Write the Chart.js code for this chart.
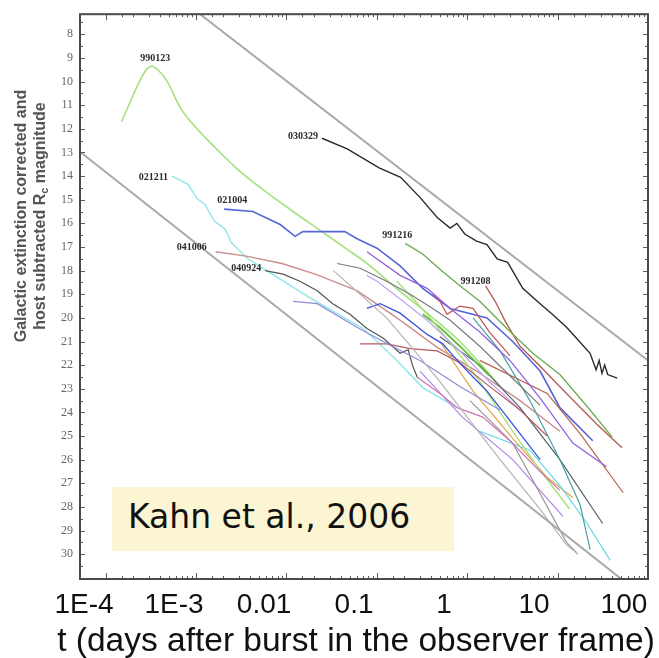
<!DOCTYPE html>
<html>
<head>
<meta charset="utf-8">
<script src="https://cdn.jsdelivr.net/npm/chart.js@4.4.0/dist/chart.umd.min.js"></script>
<style>
  html, body { margin: 0; padding: 0; background: #fff; }
  #wrap { position: relative; width: 659px; height: 658px; overflow: hidden; }
  #note {
    position: absolute; left: 112px; top: 487px; width: 342px; height: 64px;
    box-sizing: border-box; padding-left: 16px;
    background: #fcf5d3; color: #111;
    font: 33px 'DejaVu Sans', sans-serif; line-height: 60px; white-space: nowrap;
  }
</style>
</head>
<body>
<div id="wrap">
  <canvas id="myChart" width="659" height="658"></canvas>
  <div id="note">Kahn et al., 2006</div>
</div>
<script>
// axis labels
var tickValues = [1e-4, 1e-3, 0.01, 0.1, 1, 10, 100];
var tickLabels = ['1E-4', '1E-3', '0.01', '0.1', '1', '10', '100'];
var magFirst = 8;
var magLast = 30;
var xTitle = 't (days after burst in the observer frame)';

// grey envelope lines [t (days), R mag]
var upperEnvelope = [[1e-3, 6.3], [185, 21.8]];
var lowerEnvelope = [[9e-5, 12.97], [185, 31.94]];

// labelled light curves [t (days), R mag]
var grb990123 = [[2.6e-4, 11.7], [4.9e-4, 9.5], [5.7e-4, 9.35], [6.6e-4, 9.5], [8.4e-4, 10.0], [1.17e-3, 11.1],
  [1.8e-3, 12.0], [2.7e-3, 12.7], [5.4e-3, 13.8], [0.0108, 14.7], [0.021, 15.5], [0.042, 16.3], [0.084, 17.1],
  [0.14, 17.7], [0.33, 18.9], [0.7, 19.9], [1.5, 21.0], [4.2, 22.9]];
var grb030329 = [[0.044, 12.4], [0.084, 12.85], [0.19, 13.65], [0.33, 14.05], [0.54, 14.9], [0.84, 15.75],
  [1.17, 16.2], [1.39, 16.0], [1.7, 16.45], [2.3, 16.75], [3.0, 16.9], [3.9, 17.5], [5.1, 17.65], [7.5, 18.75],
  [11.7, 19.4], [16, 19.85], [23, 20.4], [32, 21.0], [42, 21.5], [49, 22.2], [53, 21.8], [57, 22.35],
  [61, 22.0], [66, 22.4], [84, 22.55]];
var grb021211 = [[9.5e-4, 14.0], [1.43e-3, 14.35], [1.8e-3, 14.95], [2.2e-3, 15.2], [2.8e-3, 15.9],
  [3.7e-3, 16.25], [4.3e-3, 16.8], [6.6e-3, 17.5], [0.0123, 18.15], [0.0325, 19.15], [0.126, 20.45],
  [0.3, 21.8], [0.58, 22.95], [1.39, 23.8]];
var grb021004 = [[3.6e-3, 15.4], [7.5e-3, 15.5], [0.0151, 16.05], [0.0221, 16.55], [0.027, 16.35],
  [0.054, 16.35], [0.079, 16.35], [0.108, 16.65], [0.18, 17.05], [0.325, 17.8], [0.58, 18.75], [1.17, 19.6],
  [3.0, 20.0], [5.8, 21.0], [11.7, 22.25], [19.4, 23.8], [45, 25.2]];
var grb041006 = [[2.9e-3, 17.2], [6.6e-3, 17.4], [0.0158, 17.7], [0.037, 18.15], [0.108, 18.85], [0.3, 20.0],
  [0.84, 21.25], [2.3, 22.25], [7.0, 23.5], [19.4, 24.8]];
var grb040924 = [[0.0103, 18.0], [0.0163, 18.15], [0.025, 18.45], [0.039, 18.85], [0.058, 19.4], [0.09, 19.85],
  [0.139, 20.45], [0.21, 20.85], [0.325, 21.5], [0.4, 21.35], [0.45, 22.05], [0.51, 22.55]];
var grb991216 = [[0.37, 16.85], [0.58, 17.3], [0.97, 18.05], [1.63, 18.75], [2.5, 19.3], [5.0, 20.45],
  [9.7, 21.5], [19.4, 22.4], [42, 23.9], [74, 25.05]];
var grb991208 = [[2.9, 18.65], [3.7, 19.3], [4.8, 20.15], [7.0, 21.2], [11.7, 22.05], [23, 23.2], [50, 24.5],
  [95, 25.5]];

// unlabelled light curves in the bundle
var other1 = [[0.065, 17.7], [0.117, 17.9], [0.23, 18.45], [0.42, 19.0], [0.75, 19.6], [1.17, 20.1], [2.5, 21.2], [5.4, 22.45], [11.7, 23.7]];
var other2 = [[0.059, 18.0], [0.117, 19.0], [0.23, 20.0], [0.45, 21.3], [0.9, 22.7], [1.94, 24.35], [4.2, 26.0], [11.7, 28.1], [23, 29.6], [31, 30.0]];
var other3 = [[0.021, 19.3], [0.039, 19.4], [0.108, 20.4], [0.21, 21.0], [0.54, 21.8], [1.5, 22.9], [4.2, 23.9]];
var other4 = [[0.139, 19.6], [0.195, 19.4], [0.325, 19.8], [0.65, 20.7], [0.97, 21.1], [1.4, 21.8], [2.1, 22.5], [3.0, 23.1], [5.4, 24.35], [11.7, 26.0]];
var other5 = [[0.117, 21.1], [0.23, 21.1], [0.42, 21.3], [0.84, 21.4], [1.5, 21.9], [3.2, 22.9], [7.0, 23.9], [14, 25.0]];
var other6 = [[0.5, 22.5], [0.9, 23.2], [1.4, 23.8], [2.7, 24.2], [5.4, 25.2], [11.7, 26.5], [19.4, 27.3]];
var other7 = [[0.139, 17.2], [0.325, 18.2], [0.65, 18.75], [1.17, 19.6], [2.5, 20.6], [5.4, 21.8], [11.7, 23.4], [27, 25.3], [64, 26.3]];
var other8 = [[0.139, 18.2], [0.18, 18.45], [0.325, 19.2], [0.65, 20.1], [1.5, 21.4], [3.2, 22.7], [7.0, 23.9]];
var other9 = [[0.3, 18.45], [0.65, 19.85], [1.8, 21.95], [2.5, 22.7], [5.8, 24.8], [11.7, 26.45], [25, 28.1]];
var other10 = [[0.58, 19.85], [0.9, 20.4], [1.5, 21.2], [3.2, 22.45]];
var other11 = [[0.75, 19.0], [0.9, 19.3], [1.08, 19.85], [1.5, 19.5], [2.1, 19.6], [3.2, 20.6], [5.4, 21.6]];
var other12 = [[2.1, 20.0], [4.2, 21.4], [9.0, 23.5], [19.4, 26.0], [32.5, 27.9], [42, 29.8]];
var other13 = [[0.9, 20.8], [2.5, 22.0], [7.0, 23.8], [19.4, 26.0], [58, 28.7]];
var other14 = [[2.5, 24.8], [9, 25.6], [19.4, 27.1], [39, 28.7], [70, 30.25]];
var other15 = [[2.5, 21.8], [14, 23.2], [32.5, 24.9], [98, 27.4]];
var other16 = [[0.9, 21.0], [2.1, 23.1], [5.8, 25.1], [14, 26.75], [27, 27.6]];
var other17 = [[0.54, 22.25], [1.6, 24.2], [5.8, 26.0], [21, 28.4]];
var other18 = [[1.94, 23.5], [5.8, 25.3], [23, 29.5], [30, 29.95]];

function pts(arr) {
  return arr.map(function(p) { return {x: p[0], y: p[1]}; });
}

function line(label, arr, color, width, extra) {
  var ds = {
    label: label,
    data: pts(arr),
    borderColor: color,
    borderWidth: width,
    pointRadius: 0,
    tension: 0,
    fill: false
  };
  for (var k in extra || {}) ds[k] = extra[k];
  return ds;
}

var datasets = [
  line('upper', upperEnvelope, '#a9a9a9', 2),
  line('lower', lowerEnvelope, '#a9a9a9', 2),
  line('o1', other1, '#7a7a7a', 1.2),
  line('o2', other2, '#b4b4b4', 1.2),
  line('o3', other3, '#8c8cd8', 1.2),
  line('o4', other4, '#3b52e0', 1.3),
  line('o5', other5, '#b45c5c', 1.2),
  line('o6', other6, '#d474b4', 1.2),
  line('o7', other7, '#9262e0', 1.3),
  line('o8', other8, '#c4a4f2', 1.3),
  line('o9', other9, '#a8e07a', 1.4),
  line('o10', other10, '#5cbc3c', 1.8),
  line('o11', other11, '#c45252', 1.2),
  line('o12', other12, '#4aa0a0', 1.2),
  line('o13', other13, '#506070', 1.2),
  line('o14', other14, '#64d8e8', 1.2),
  line('o15', other15, '#b46452', 1.2),
  line('o16', other16, '#e2a444', 1.2),
  line('o17', other17, '#b484e2', 1.2),
  line('o18', other18, '#9a9a9a', 1.2),
  line('041006', grb041006, '#cc8e8e', 1.4, {tag: {at: 'first', align: 'right', dx: -9, dy: -4}}),
  line('040924', grb040924, '#555555', 1.2, {tag: {at: 'first', align: 'right', dx: -4, dy: -2}}),
  line('021211', grb021211, '#8ee6e8', 1.4, {tag: {at: 'first', align: 'right', dx: -4, dy: 1}}),
  line('021004', grb021004, '#5566d8', 1.6, {tag: {at: 'first', align: 'center', dx: 8, dy: -9}}),
  line('991216', grb991216, '#6aaa50', 1.3, {tag: {at: 'first', align: 'center', dx: -8, dy: -8}}),
  line('991208', grb991208, '#b45a50', 1.3, {tag: {at: 'first', align: 'center', dx: -10, dy: -5}}),
  line('990123', grb990123, '#a6e07c', 1.6, {cubicInterpolationMode: 'monotone', tag: {at: 'peak', align: 'center', dx: 3, dy: -8}}),
  line('030329', grb030329, '#2a2a2a', 1.4, {tag: {at: 'first', align: 'right', dx: -4, dy: -2}})
];

// GRB names next to their curves
var curveTags = {
  id: 'curveTags',
  afterDatasetsDraw: function(chart) {
    var ctx = chart.ctx;
    var xs = chart.scales.x, ys = chart.scales.y;
    ctx.save();
    ctx.font = 'bold 10px "Liberation Serif"';
    ctx.fillStyle = '#2a2a2a';
    ctx.textBaseline = 'middle';
    chart.data.datasets.forEach(function(ds) {
      if (!ds.tag) return;
      var p = ds.data[0];
      if (ds.tag.at === 'peak') {
        p = ds.data.reduce(function(a, b) { return b.y < a.y ? b : a; });
      }
      ctx.textAlign = ds.tag.align;
      ctx.fillText(ds.label, xs.getPixelForValue(p.x) + ds.tag.dx, ys.getPixelForValue(p.y) + ds.tag.dy);
    });
    ctx.restore();
  }
};

// frame with inward ticks on all four sides, plus the axis titles
var frame = {
  id: 'frame',
  afterDraw: function(chart) {
    var ctx = chart.ctx, a = chart.chartArea;
    var xf = chart.scales.xf, ys = chart.scales.y;
    ctx.save();
    ctx.strokeStyle = '#5a5a5a';
    ctx.lineWidth = 1;
    ctx.beginPath();
    xf.ticks.forEach(function(t) {
      if (t.value < 0.999) return;
      var lg = Math.log10(t.value);
      var len = Math.abs(lg - Math.round(lg)) < 1e-6 ? 6 : 3;
      var px = Math.round(xf.getPixelForValue(t.value)) + 0.5;
      ctx.moveTo(px, a.bottom); ctx.lineTo(px, a.bottom - len);
      ctx.moveTo(px, a.top); ctx.lineTo(px, a.top + len);
    });
    for (var m = Math.ceil(ys.min * 2) / 2; m <= ys.max; m += 0.5) {
      var py = Math.round(ys.getPixelForValue(m)) + 0.5;
      var l = (m % 1 === 0) ? 5 : 3;
      ctx.moveTo(a.left, py); ctx.lineTo(a.left + l, py);
      ctx.moveTo(a.right, py); ctx.lineTo(a.right - l, py);
    }
    ctx.stroke();
    ctx.strokeStyle = '#4a4a4a';
    ctx.lineWidth = 2;
    ctx.strokeRect(a.left, a.top, a.right - a.left, a.bottom - a.top);

    // x title, slightly left of the plot centre as in the slide
    ctx.fillStyle = '#111';
    ctx.font = '33.5px "Liberation Sans"';
    ctx.textAlign = 'center';
    ctx.textBaseline = 'alphabetic';
    ctx.fillText(xTitle, 356, 651);

    // y title, two lines with subscript c
    ctx.fillStyle = '#555';
    ctx.textBaseline = 'middle';
    ctx.translate(22, 216);
    ctx.rotate(-Math.PI / 2);
    ctx.font = 'bold 16px "Liberation Sans"';
    ctx.textAlign = 'center';
    ctx.fillText('Galactic extinction corrected and', 0, 0);
    var s1 = 'host subtracted R', s3 = ' magnitude';
    var w1 = ctx.measureText(s1).width, w3 = ctx.measureText(s3).width;
    ctx.font = 'bold 11px "Liberation Sans"';
    var w2 = ctx.measureText('c').width;
    var x0 = -(w1 + w2 + w3) / 2;
    ctx.textAlign = 'left';
    ctx.fillText('c', x0 + w1, 19 + 4);
    ctx.font = 'bold 16px "Liberation Sans"';
    ctx.fillText(s1, x0, 19);
    ctx.fillText(s3, x0 + w1 + w2, 19);
    ctx.restore();
  }
};

var ctx = document.getElementById('myChart').getContext('2d');
var myChart = new Chart(ctx, {
  type: 'line',
  data: { datasets: datasets },
  options: {
    responsive: false,
    animation: false,
    events: [],
    layout: { padding: { left: 0, right: 11, top: 12, bottom: 0 } },
    plugins: { legend: { display: false }, tooltip: { enabled: false } },
    scales: {
      x: {
        type: 'logarithmic',
        min: 9e-5,
        max: 185,
        grid: { display: false, drawTicks: false },
        border: { display: false },
        ticks: {
          autoSkip: false,
          maxRotation: 0,
          minRotation: 0,
          padding: 9,
          color: '#111',
          font: { family: 'Liberation Sans', size: 28 },
          callback: function(v) {
            for (var i = 0; i < tickValues.length; i++) {
              if (Math.abs(Math.log10(v) - Math.log10(tickValues[i])) < 1e-6) return tickLabels[i];
            }
            return '';
          }
        },
        afterFit: function(s) { s.height = 79; }
      },
      xf: {
        type: 'logarithmic',
        display: false,
        min: 0.52,
        max: 1e6,
        ticks: { autoSkip: false }
      },
      y: {
        type: 'linear',
        reverse: true,
        min: 7.15,
        max: 31.05,
        grid: { display: false, drawTicks: false },
        border: { display: false },
        ticks: {
          stepSize: 1,
          includeBounds: false,
          autoSkip: false,
          padding: 7,
          color: '#666',
          font: { family: 'Liberation Serif', size: 12 },
          callback: function(v) {
            if (v % 1 !== 0 || v < magFirst || v > magLast) return '';
            return v;
          }
        },
        afterFit: function(s) { s.width = 80; }
      }
    }
  },
  plugins: [curveTags, frame]
});
</script>
</body>
</html>
